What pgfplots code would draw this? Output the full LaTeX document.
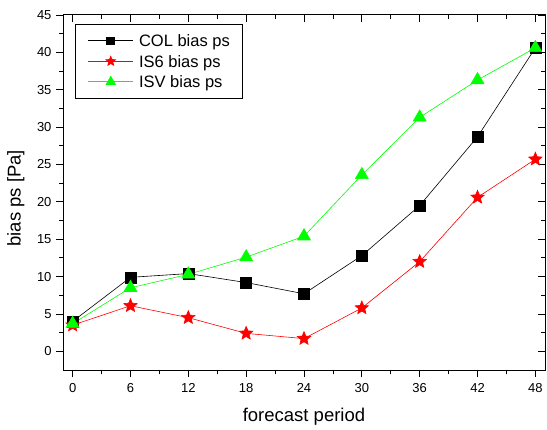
\documentclass[border=0pt]{standalone}
\usepackage{fontspec}
\setmainfont{Liberation Sans}
\usepackage{pgfplots}
\pgfplotsset{compat=1.18}
\usetikzlibrary{plotmarks}

% filled five-pointed star
\pgfdeclareplotmark{fstar}{%
  \pgfpathmoveto{\pgfpointpolar{90}{\pgfplotmarksize}}%
  \pgfpathlineto{\pgfpointpolar{126}{0.45\pgfplotmarksize}}%
  \pgfpathlineto{\pgfpointpolar{162}{\pgfplotmarksize}}%
  \pgfpathlineto{\pgfpointpolar{198}{0.45\pgfplotmarksize}}%
  \pgfpathlineto{\pgfpointpolar{234}{\pgfplotmarksize}}%
  \pgfpathlineto{\pgfpointpolar{270}{0.45\pgfplotmarksize}}%
  \pgfpathlineto{\pgfpointpolar{306}{\pgfplotmarksize}}%
  \pgfpathlineto{\pgfpointpolar{342}{0.45\pgfplotmarksize}}%
  \pgfpathlineto{\pgfpointpolar{18}{\pgfplotmarksize}}%
  \pgfpathlineto{\pgfpointpolar{54}{0.45\pgfplotmarksize}}%
  \pgfpathclose
  \pgfusepathqfillstroke}

\definecolor{isvgreen}{RGB}{0,255,0}
\definecolor{isred}{RGB}{255,0,0}

\pgfplotsset{
  frame/.style={
    width=482bp, height=355bp, scale only axis,
    xmin=-1, xmax=49, ymin=-2.5, ymax=45,
    xtick={0,6,...,48}, ytick={0,5,...,45},
    minor x tick num=1, minor y tick num=1,
    major tick length=7bp, minor tick length=4bp,
    axis line style={line width=1bp},
    every tick/.style={line width=0.8bp, black},
  }
}

\begin{document}
\begin{tikzpicture}
% mirrored ticks on top and right, pointing inward
\begin{axis}[frame,
  xtick pos=right, ytick pos=right, tick align=inside,
  xticklabels={}, yticklabels={}]
\end{axis}
\begin{axis}[frame, name=ax,
  xtick pos=left, ytick pos=left, tick align=outside,
  /pgf/number format/assume math mode=true,
  ticklabel style={font=\fontsize{13bp}{15bp}\selectfont},
  xticklabel style={yshift=-3bp},
  yticklabel style={xshift=-1bp},
  label style={font=\fontsize{18.5bp}{21bp}\selectfont},
  xlabel={forecast period},
  ylabel={bias ps [Pa]},
  xlabel style={at={(axis description cs:0.5,-0.145)}, anchor=base},
  ylabel style={at={(axis description cs:-0.098,0.484)}, anchor=center},
  legend cell align=left,
  legend style={at={(0.025,0.975)}, anchor=north west,
    draw=black, line width=0.8bp,
    font=\fontsize{16.5bp}{19bp}\selectfont,
    nodes={inner sep=0bp, text height=12bp, text depth=0bp},
    inner xsep=12.5bp, inner ysep=10.5bp, row sep=8.5bp, column sep=5.5bp},
  legend image code/.code={%
    \draw[mark repeat=2, mark phase=2, every mark/.append style={scale=0.72}]
      plot coordinates {(0bp,0bp) (22.5bp,0bp) (45bp,0bp)};},
]
\addplot[black, line width=0.6bp, mark=square*,
  mark size=5.5bp, mark options={fill=black, draw=black}]
  coordinates {(0,4.0) (6,9.9) (12,10.4) (18,9.2) (24,7.7)
               (30,12.8) (36,19.5) (42,28.7) (48,40.6)};
\addlegendentry{COL bias ps}
\addplot[isred, line width=0.6bp, mark=fstar,
  mark size=7bp, mark options={fill=isred, draw=isred}]
  coordinates {(0,3.5) (6,6.1) (12,4.5) (18,2.4) (24,1.7)
               (30,5.8) (36,12.0) (42,20.6) (48,25.7)};
\addlegendentry{IS6 bias ps}
\addplot[isvgreen, line width=0.6bp, mark=triangle*,
  mark size=7.5bp, mark options={fill=isvgreen, draw=isvgreen}]
  coordinates {(0,3.7) (6,8.5) (12,10.3) (18,12.6) (24,15.4)
               (30,23.6) (36,31.3) (42,36.3) (48,40.6)};
\addlegendentry{ISV bias ps}
\end{axis}
\pgfresetboundingbox
\path[use as bounding box] ([shift={(-63bp,-60bp)}]ax.south west)
  rectangle ([shift={(2bp,15bp)}]ax.north east);
\end{tikzpicture}
\end{document}
